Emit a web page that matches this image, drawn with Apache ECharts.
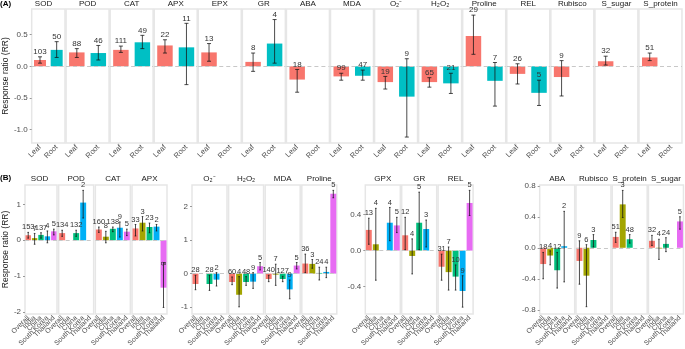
<!DOCTYPE html>
<html>
<head>
<meta charset="utf-8">
<script src="https://cdn.jsdelivr.net/npm/echarts@6/dist/echarts.min.js"></script>
<style>
  html, body { margin: 0; padding: 0; background: #fff; }
  #chart { width: 685px; height: 349px; }
</style>
</head>
<body>
<div id="chart"></div>
<script>
// ---- (A) tissue panels ----
const topTraits = ['SOD', 'POD', 'CAT', 'APX', 'EPX', 'GR', 'ABA', 'MDA', 'O₂⁻', 'H₂O₂', 'Proline', 'REL', 'Rubisco', 'S_sugar', 'S_protein'];
const tissues = ['Leaf', 'Root'];
const leafMean = [0.10, 0.22, 0.26, 0.33, 0.22, 0.07, -0.21, -0.16, -0.25, -0.25, 0.48, -0.12, -0.17, 0.08, 0.14];
const leafLow  = [0.05, 0.14, 0.22, 0.21, 0.08, -0.08, -0.41, -0.22, -0.36, -0.33, 0.19, -0.28, -0.47, 0.02, 0.09];
const leafHigh = [0.15, 0.28, 0.32, 0.42, 0.36, 0.21, -0.05, -0.11, -0.16, -0.18, 0.81, 0.04, 0.09, 0.16, 0.21];
const leafN    = [103, 88, 111, 22, 13, 8, 18, 99, 19, 65, 29, 26, 9, 32, 51];
const rootMean = [0.26, 0.21, 0.38, 0.30, null, 0.36, null, -0.15, -0.48, -0.27, -0.23, -0.42, null, null, null];
const rootLow  = [0.14, 0.10, 0.28, -0.29, null, 0.05, null, -0.22, -1.12, -0.43, -0.63, -0.62, null, null, null];
const rootHigh = [0.39, 0.33, 0.49, 0.68, null, 0.74, null, -0.06, 0.12, -0.11, 0.06, -0.22, null, null, null];
const rootN    = [50, 46, 49, 11, null, 4, null, 47, 9, 21, 7, 5, null, null, null];
const topTicks = [-1.0, -0.5, 0.0, 0.5];

// ---- (B) country panels ----
const countries = ['Overall', 'India', 'China', 'South Korea', 'Thailand'];

const g1Traits = ['SOD', 'POD', 'CAT', 'APX'];
const g1Mean = [[0.14, 0.06, 0.15, 0.11, 0.25], [0.20, null, 0.20, 1.05, null], [0.30, 0.10, 0.32, 0.35, 0.24], [0.33, 0.49, 0.37, 0.38, -1.32]];
const g1Low  = [[0.06, -0.11, 0.06, -0.07, 0.15], [0.11, null, 0.11, 0.62, null], [0.22, -0.07, 0.24, 0.09, 0.13], [0.12, 0.26, 0.21, 0.26, -1.87]];
const g1High = [[0.22, 0.19, 0.21, 0.26, 0.31], [0.28, null, 0.28, 1.39, null], [0.37, 0.25, 0.37, 0.51, 0.31], [0.44, 0.66, 0.48, 0.44, -0.62]];
const g1N    = [[153, 7, 137, 4, 5], [134, null, 132, 2, null], [160, 8, 138, 9, 5], [33, 3, 23, 2, 5]];
const g1Ticks = [-2, -1, 0, 1];

const g2Traits = ['O₂⁻', 'H₂O₂', 'MDA', 'Proline'];
const g2Mean = [[-0.31, null, -0.31, -0.18, null], [-0.25, -0.63, -0.25, -0.24, 0.22], [-0.16, -0.03, -0.16, -0.47, 0.24], [0.30, 0.29, 0.02, 0.05, 2.38]];
const g2Low  = [[-0.48, null, -0.50, -0.37, null], [-0.33, -0.99, -0.35, -0.44, 0.11], [-0.24, -0.35, -0.24, -0.75, 0.14], [0.03, 0.16, -0.19, -0.12, 2.26]];
const g2High = [[-0.05, null, -0.05, 0.03, null], [-0.10, -0.09, -0.09, 0.03, 0.33], [-0.05, 0.28, -0.08, -0.19, 0.33], [0.58, 0.42, 0.19, 0.19, 2.48]];
const g2N    = [[28, null, 28, 2, null], [60, 4, 48, 9, 5], [140, 7, 127, 9, 5], [36, 3, 24, 4, 5]];
const g2Ticks = [-1, 0, 1, 2];

const g3Traits = ['GPX', 'GR', 'REL'];
const g3Mean = [[0.23, 0.07, null, 0.31, 0.28], [0.17, -0.06, 0.31, 0.24, null], [-0.18, -0.24, -0.29, -0.45, 0.53]];
const g3Low  = [[0.07, -0.33, null, 0.11, 0.20], [0.01, -0.26, 0.01, 0.04, null], [-0.33, -0.44, -0.44, -0.63, 0.39]];
const g3High = [[0.36, 0.47, null, 0.48, 0.37], [0.37, 0.13, 0.65, 0.34, null], [-0.04, 0.04, -0.16, -0.28, 0.67]];
const g3N    = [[13, 4, null, 4, 5], [12, 4, 5, 3, null], [31, 7, 10, 9, 5]];
const g3Ticks = [-0.4, 0.0, 0.4];

const g4Traits = ['ABA', 'Rubisco', 'S_protein', 'S_sugar'];
const g4Mean = [[-0.21, -0.10, -0.29, 0.02, null], [-0.17, -0.36, 0.10, null, null], [0.14, 0.56, 0.11, null, null], [0.09, -0.01, 0.05, null, 0.34]];
const g4Low  = [[-0.40, -0.22, -0.52, -0.44, null], [-0.47, -0.76, 0.01, null, null], [0.07, 0.39, 0.06, null, null], [0.03, -0.15, -0.05, null, 0.24]];
const g4High = [[-0.06, -0.04, -0.06, 0.47, null], [0.09, 0.04, 0.17, null, null], [0.20, 0.74, 0.17, null, null], [0.16, 0.11, 0.13, null, 0.40]];
const g4N    = [[18, 4, 12, 2, null], [9, 6, 3, null, null], [51, 3, 48, null, null], [32, 4, 24, null, 5]];
const g4Ticks = [-0.8, -0.4, 0.0, 0.4, 0.8];

const tissueColors = ['#F8766D', '#00BFC4'];
const countryColors = ['#F8766D', '#A3A500', '#00BF7D', '#00B0F6', '#E76BF3'];
const FONT = 'Liberation Sans, Arial, sans-serif';

const grid = [], xAxis = [], yAxis = [], series = [], graphic = [];

// one facet panel = grid + axes + bar series + error/label series
function addPanel(p) {
  const gi = grid.length;
  grid.push({ left: p.left, top: p.top, width: p.width, height: p.height, show: true,
    borderColor: '#e6e6e6', borderWidth: 1.5, backgroundColor: '#fff' });
  xAxis.push({ type: 'category', gridIndex: gi, data: p.cats,
    axisLine: { show: false }, axisTick: { show: false },
    axisLabel: { rotate: 45, interval: 0, margin: 3, fontSize: p.xFont, color: '#4d4d4d', fontFamily: FONT } });
  yAxis.push({ type: 'value', gridIndex: gi, min: p.yMin, max: p.yMax,
    splitLine: { show: false }, axisLine: { show: false },
    axisTick: { show: p.showY, length: 2, lineStyle: { color: '#999' }, customValues: p.ticks },
    axisLabel: { show: p.showY, fontSize: 8, color: '#4d4d4d', fontFamily: FONT, margin: 4,
      customValues: p.ticks, formatter: v => v.toFixed(p.dec) },
    name: p.yName || '', nameLocation: 'middle', nameGap: p.nameGap || 15, nameRotate: 90,
    nameTextStyle: { fontSize: 8.5, color: '#222', fontFamily: FONT } });

  series.push({ type: 'bar', xAxisIndex: gi, yAxisIndex: gi, barWidth: p.barWidth, silent: true,
    data: p.mean.map((v, i) => v == null ? '-' : { value: v, itemStyle: { color: p.colors[i] } }),
    markLine: { silent: true, symbol: 'none', label: { show: false },
      lineStyle: { type: [4, 3], color: '#c8c8c8', width: 1 }, data: [{ yAxis: 0 }] } });

  const errData = [];
  p.mean.forEach((v, i) => { if (v != null) errData.push([i, v, p.low[i], p.high[i], p.n[i]]); });
  series.push({ type: 'custom', xAxisIndex: gi, yAxisIndex: gi, silent: true, z: 5, data: errData,
    renderItem: function (params, api) {
      const x = api.value(0);
      const pHi = api.coord([x, api.value(3)]);
      const pLo = api.coord([x, api.value(2)]);
      const c = p.cap;
      const ls = { stroke: 'rgba(20,20,20,0.85)', lineWidth: 0.9 };
      const rot = p.rotateLabel && p.rotateLabel(x);
      return { type: 'group', children: [
        { type: 'line', shape: { x1: pHi[0], y1: pHi[1], x2: pLo[0], y2: pLo[1] }, style: ls },
        { type: 'line', shape: { x1: pHi[0] - c, y1: pHi[1], x2: pHi[0] + c, y2: pHi[1] }, style: ls },
        { type: 'line', shape: { x1: pLo[0] - c, y1: pLo[1], x2: pLo[0] + c, y2: pLo[1] }, style: ls },
        { type: 'text', x: pHi[0], y: pHi[1] - 1, rotation: rot ? -Math.PI / 2 : 0,
          style: { text: String(api.value(4)), fill: '#333', font: p.labelFont + 'px ' + FONT,
            textAlign: rot ? 'left' : 'center', textVerticalAlign: rot ? 'middle' : 'bottom' } }
      ] };
    } });

  graphic.push({ type: 'text', x: p.left + p.width / 2, y: p.stripY,
    style: { text: p.title, fill: '#1a1a1a', font: '8px ' + FONT, textAlign: 'center', textVerticalAlign: 'middle' } });
}

// (A)
const topPitch = 44.07;
topTraits.forEach((t, i) => {
  addPanel({ left: 22 + i * topPitch, width: 43, top: 9, height: 134, cats: tissues,
    mean: [leafMean[i], rootMean[i]], low: [leafLow[i], rootLow[i]], high: [leafHigh[i], rootHigh[i]],
    n: [leafN[i], rootN[i]], colors: tissueColors, yMin: -1.214, yMax: 0.907, ticks: topTicks, dec: 1,
    showY: i === 0, yName: i === 0 ? 'Response ratio (RR)' : '', nameGap: 17,
    barWidth: '72%', cap: 2, labelFont: 8, xFont: 7.5, title: t, stripY: 4 });
});

// (B)
const bGroups = [
  { traits: g1Traits, mean: g1Mean, low: g1Low, high: g1High, n: g1N, ticks: g1Ticks, dec: 0,
    left: 22, pitch: 36.67, yMin: -2.05, yMax: 1.54, yName: 'Response ratio (RR)' },
  { traits: g2Traits, mean: g2Mean, low: g2Low, high: g2High, n: g2N, ticks: g2Ticks, dec: 0,
    left: 192, pitch: 36.6, yMin: -1.20, yMax: 2.64 },
  { traits: g3Traits, mean: g3Mean, low: g3Low, high: g3High, n: g3N, ticks: g3Ticks, dec: 1,
    left: 365.3, pitch: 36.4, yMin: -0.705, yMax: 0.73 },
  { traits: g4Traits, mean: g4Mean, low: g4Low, high: g4High, n: g4N, ticks: g4Ticks, dec: 1,
    left: 539.7, pitch: 36.25, yMin: -0.853, yMax: 0.81 }
];
bGroups.forEach(g => {
  g.traits.forEach((t, j) => {
    addPanel({ left: g.left + j * g.pitch, width: 35, top: 185, height: 135.7, cats: countries,
      mean: g.mean[j], low: g.low[j], high: g.high[j], n: g.n[j], colors: countryColors,
      yMin: g.yMin, yMax: g.yMax, ticks: g.ticks, dec: g.dec, showY: j === 0,
      yName: j === 0 && g.yName ? g.yName : '', nameGap: 13,
      barWidth: '85%', cap: 0.8, labelFont: 7.5, xFont: 7, title: t, stripY: 179,
      rotateLabel: x => t === 'APX' && x === 4 });
  });
});

graphic.push({ type: 'text', x: 0, y: 4, style: { text: '(A)', fill: '#000', font: 'bold 8px ' + FONT, textVerticalAlign: 'middle' } });
graphic.push({ type: 'text', x: 0, y: 178, style: { text: '(B)', fill: '#000', font: 'bold 8px ' + FONT, textVerticalAlign: 'middle' } });

const chart = echarts.init(document.getElementById('chart'), null, { renderer: 'canvas' });
chart.setOption({ animation: false, backgroundColor: '#fff', grid, xAxis, yAxis, series, graphic });
</script>
</body>
</html>
